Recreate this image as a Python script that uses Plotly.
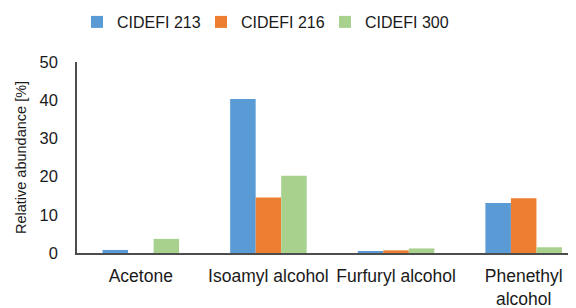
import plotly.graph_objects as go

categories = ["Acetone", "Isoamyl alcohol", "Furfuryl alcohol", "Phenethyl<br>alcohol"]
series_names = ["CIDEFI 213", "CIDEFI 216", "CIDEFI 300"]
cidefi_213 = [0.8, 40.3, 0.5, 13.1]
cidefi_216 = [0.0, 14.5, 0.7, 14.3]
cidefi_300 = [3.7, 20.2, 1.2, 1.5]
colors = ["#5B9BD5", "#ED7D31", "#A9D18E"]
y_ticks = [0, 10, 20, 30, 40, 50]

FONT = "Liberation Sans, Arial, sans-serif"

# page body has an 8px default margin -> figure is 568x300 and offset by 8px
fig = go.Figure()
for name, vals, col in zip(series_names, [cidefi_213, cidefi_216, cidefi_300], colors):
    fig.add_trace(go.Bar(name=name, x=categories, y=vals, marker_color=col,
                         marker_line_width=0))

fig.update_layout(
    width=568, height=300,
    margin=dict(l=69, r=0, t=54, b=55, autoexpand=False),
    paper_bgcolor="white", plot_bgcolor="white",
    barmode="group", bargap=0.4, bargroupgap=0,
    font=dict(family=FONT, color="#1a1a1a"),
    showlegend=True,
    legend=dict(orientation="h", x=0.0, xanchor="left",
                y=1 - 14 / 300, yref="container", yanchor="middle",
                font=dict(size=16, family=FONT),
                itemwidth=30, entrywidth=79, traceorder="normal"),
)
fig.update_xaxes(
    type="category", range=[-0.5, 3.41], automargin=False,
    showline=True, linecolor="#4d4d4d", linewidth=1.5,
    showgrid=False, ticks="", tickfont=dict(size=17.5, family=FONT),
    ticklabelstandoff=6,
    zeroline=False,
)
fig.update_yaxes(
    range=[0, 50], tickvals=y_ticks, ticktext=[str(v) for v in y_ticks],
    automargin=False,
    showline=True, linecolor="#4d4d4d", linewidth=1.5,
    showgrid=False, zeroline=False, ticks="",
    tickfont=dict(size=16.5, family=FONT),
    ticklabelstandoff=14,
    title=dict(text="Relative abundance [%]", font=dict(size=14.5, family=FONT), standoff=10),
)

fig.write_html("out.html")
